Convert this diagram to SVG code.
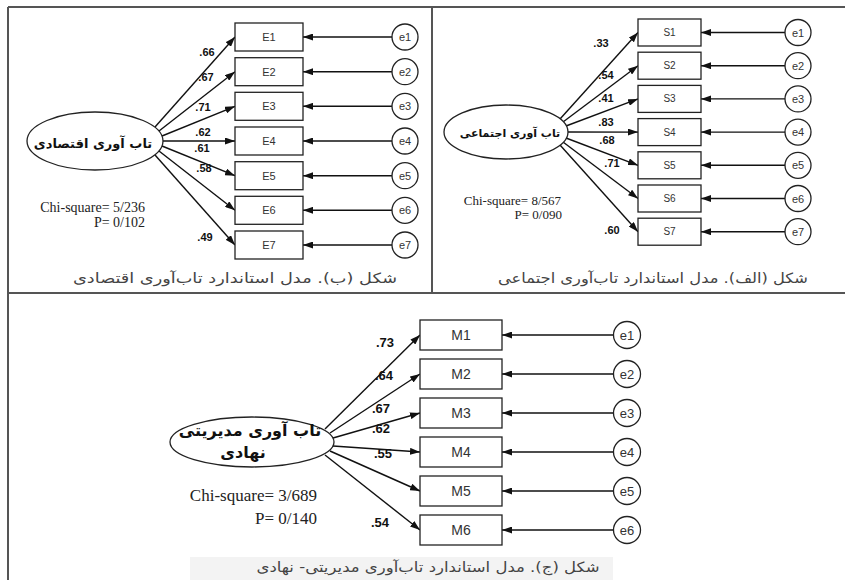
<svg xmlns="http://www.w3.org/2000/svg" width="845" height="580" viewBox="0 0 845 580">
<defs>
<marker id="ah" viewBox="0 0 10 7" refX="10" refY="3.5" markerWidth="10" markerHeight="7" markerUnits="userSpaceOnUse" orient="auto">
<path d="M0,0 L10,3.5 L0,7 z" fill="#111"/>
</marker>
<style>
.frame{stroke:#555;stroke-width:2;fill:none}
.box{fill:#fff;stroke:#222;stroke-width:1.3}
.err{fill:#fff;stroke:#222;stroke-width:1.3}
.lat{fill:#fff;stroke:#222;stroke-width:1.3}
.c line{stroke:#111;stroke-width:1.4;marker-end:url(#ah)}
.lbl{font-family:"Liberation Sans",Arial,sans-serif;fill:#333;text-anchor:middle;dominant-baseline:central}
.w{font-family:"Liberation Sans",Arial,sans-serif;font-weight:bold;fill:#111;text-anchor:middle}
.fa{font-family:"DejaVu Sans","Noto Sans",sans-serif;font-weight:bold;fill:#111;text-anchor:middle;direction:rtl}
.cap{font-family:"DejaVu Sans","Noto Sans",sans-serif;fill:#444;text-anchor:middle;direction:rtl}
.chi{font-family:"Liberation Serif","Times New Roman",serif;fill:#222;text-anchor:end}
</style>
</defs>
<rect width="845" height="580" fill="#fff"/>
<g id="frame">
<line class="frame" x1="8" y1="7" x2="845" y2="7"/>
<line class="frame" x1="8" y1="7" x2="8" y2="580"/>
<line class="frame" x1="432" y1="7" x2="432" y2="293"/>
<line class="frame" x1="8" y1="293" x2="845" y2="293"/>
<rect x="190" y="557" width="423" height="23" fill="#f3f3f3"/>
</g>

<g class="c" id="connectors">
<!-- panel B -->
<line x1="155" y1="127" x2="235" y2="37"/>
<line x1="159" y1="131" x2="235" y2="71.7"/>
<line x1="162" y1="136" x2="235" y2="106.3"/>
<line x1="163" y1="141" x2="235" y2="141"/>
<line x1="162" y1="146" x2="235" y2="175.7"/>
<line x1="159" y1="151" x2="235" y2="210.3"/>
<line x1="155" y1="155" x2="235" y2="245"/>
<line x1="392" y1="37" x2="303" y2="37"/>
<line x1="392" y1="71.7" x2="303" y2="71.7"/>
<line x1="392" y1="106.3" x2="303" y2="106.3"/>
<line x1="392" y1="141" x2="303" y2="141"/>
<line x1="392" y1="175.7" x2="303" y2="175.7"/>
<line x1="392" y1="210.3" x2="303" y2="210.3"/>
<line x1="392" y1="245" x2="303" y2="245"/>
<!-- panel A -->
<line x1="560" y1="119" x2="638" y2="32.5"/>
<line x1="563" y1="122" x2="638" y2="65.7"/>
<line x1="566" y1="126" x2="638" y2="98.9"/>
<line x1="568" y1="132" x2="638" y2="132.1"/>
<line x1="566" y1="138" x2="638" y2="165.3"/>
<line x1="563" y1="142" x2="638" y2="198.5"/>
<line x1="560" y1="145" x2="638" y2="231.7"/>
<line x1="785" y1="32.5" x2="701" y2="32.5"/>
<line x1="785" y1="65.7" x2="701" y2="65.7"/>
<line x1="785" y1="98.9" x2="701" y2="98.9"/>
<line x1="785" y1="132.1" x2="701" y2="132.1"/>
<line x1="785" y1="165.3" x2="701" y2="165.3"/>
<line x1="785" y1="198.5" x2="701" y2="198.5"/>
<line x1="785" y1="231.7" x2="701" y2="231.7"/>
<!-- panel C -->
<line x1="325" y1="429" x2="420" y2="335"/>
<line x1="330" y1="433" x2="420" y2="374"/>
<line x1="333" y1="438" x2="420" y2="413"/>
<line x1="333" y1="446" x2="420" y2="452"/>
<line x1="330" y1="451" x2="420" y2="491"/>
<line x1="325" y1="455" x2="420" y2="530"/>
<line x1="613.5" y1="335" x2="502" y2="335"/>
<line x1="613.5" y1="374" x2="502" y2="374"/>
<line x1="613.5" y1="413" x2="502" y2="413"/>
<line x1="613.5" y1="452" x2="502" y2="452"/>
<line x1="613.5" y1="491" x2="502" y2="491"/>
<line x1="613.5" y1="530" x2="502" y2="530"/>
</g>

<!-- Panel B: economic -->
<g id="latB"><ellipse class="lat" cx="95" cy="141" rx="68" ry="29"/><text class="fa" x="93" y="148" font-size="13">تاب آوری اقتصادی</text></g>
<g id="E1"><rect class="box" x="235" y="23" width="68" height="28"/><text class="lbl" x="269" y="37" font-size="11">E1</text></g>
<g id="E2"><rect class="box" x="235" y="57.7" width="68" height="28"/><text class="lbl" x="269" y="71.7" font-size="11">E2</text></g>
<g id="E3"><rect class="box" x="235" y="92.3" width="68" height="28"/><text class="lbl" x="269" y="106.3" font-size="11">E3</text></g>
<g id="E4"><rect class="box" x="235" y="127" width="68" height="28"/><text class="lbl" x="269" y="141" font-size="11">E4</text></g>
<g id="E5"><rect class="box" x="235" y="161.7" width="68" height="28"/><text class="lbl" x="269" y="175.7" font-size="11">E5</text></g>
<g id="E6"><rect class="box" x="235" y="196.3" width="68" height="28"/><text class="lbl" x="269" y="210.3" font-size="11">E6</text></g>
<g id="E7"><rect class="box" x="235" y="231" width="68" height="28"/><text class="lbl" x="269" y="245" font-size="11">E7</text></g>
<g id="Be1"><circle class="err" cx="405" cy="37" r="13"/><text class="lbl" x="405" y="37" font-size="11">e1</text></g>
<g id="Be2"><circle class="err" cx="405" cy="71.7" r="13"/><text class="lbl" x="405" y="71.7" font-size="11">e2</text></g>
<g id="Be3"><circle class="err" cx="405" cy="106.3" r="13"/><text class="lbl" x="405" y="106.3" font-size="11">e3</text></g>
<g id="Be4"><circle class="err" cx="405" cy="141" r="13"/><text class="lbl" x="405" y="141" font-size="11">e4</text></g>
<g id="Be5"><circle class="err" cx="405" cy="175.7" r="13"/><text class="lbl" x="405" y="175.7" font-size="11">e5</text></g>
<g id="Be6"><circle class="err" cx="405" cy="210.3" r="13"/><text class="lbl" x="405" y="210.3" font-size="11">e6</text></g>
<g id="Be7"><circle class="err" cx="405" cy="245" r="13"/><text class="lbl" x="405" y="245" font-size="11">e7</text></g>
<g id="Bw" font-size="11">
<text class="w" x="207" y="56">.66</text>
<text class="w" x="206" y="81">.67</text>
<text class="w" x="203" y="111">.71</text>
<text class="w" x="203" y="136">.62</text>
<text class="w" x="202" y="152">.61</text>
<text class="w" x="204" y="172">.58</text>
<text class="w" x="205" y="241">.49</text>
</g>
<g id="Bchi"><text class="chi" x="145" y="212" font-size="14">Chi-square= 5/236</text><text class="chi" x="145" y="227" font-size="14">P= 0/102</text></g>
<text class="cap" x="235" y="283" font-size="14" textLength="324" lengthAdjust="spacingAndGlyphs">شکل (ب). مدل استاندارد تاب‌آوری اقتصادی</text>

<!-- Panel A: social -->
<g id="latA"><ellipse class="lat" cx="506" cy="132" rx="62" ry="27"/><text class="fa" x="510" y="137" font-size="11">تاب آوری اجتماعی</text></g>
<g id="S1"><rect class="box" x="638" y="19" width="63" height="27"/><text class="lbl" x="669.5" y="32.5" font-size="10">S1</text></g>
<g id="S2"><rect class="box" x="638" y="52.2" width="63" height="27"/><text class="lbl" x="669.5" y="65.7" font-size="10">S2</text></g>
<g id="S3"><rect class="box" x="638" y="85.4" width="63" height="27"/><text class="lbl" x="669.5" y="98.9" font-size="10">S3</text></g>
<g id="S4"><rect class="box" x="638" y="118.6" width="63" height="27"/><text class="lbl" x="669.5" y="132.1" font-size="10">S4</text></g>
<g id="S5"><rect class="box" x="638" y="151.8" width="63" height="27"/><text class="lbl" x="669.5" y="165.3" font-size="10">S5</text></g>
<g id="S6"><rect class="box" x="638" y="185" width="63" height="27"/><text class="lbl" x="669.5" y="198.5" font-size="10">S6</text></g>
<g id="S7"><rect class="box" x="638" y="218.2" width="63" height="27"/><text class="lbl" x="669.5" y="231.7" font-size="10">S7</text></g>
<g id="Ae1"><circle class="err" cx="798" cy="32.5" r="13"/><text class="lbl" x="798" y="32.5" font-size="11">e1</text></g>
<g id="Ae2"><circle class="err" cx="798" cy="65.7" r="13"/><text class="lbl" x="798" y="65.7" font-size="11">e2</text></g>
<g id="Ae3"><circle class="err" cx="798" cy="98.9" r="13"/><text class="lbl" x="798" y="98.9" font-size="11">e3</text></g>
<g id="Ae4"><circle class="err" cx="798" cy="132.1" r="13"/><text class="lbl" x="798" y="132.1" font-size="11">e4</text></g>
<g id="Ae5"><circle class="err" cx="798" cy="165.3" r="13"/><text class="lbl" x="798" y="165.3" font-size="11">e5</text></g>
<g id="Ae6"><circle class="err" cx="798" cy="198.5" r="13"/><text class="lbl" x="798" y="198.5" font-size="11">e6</text></g>
<g id="Ae7"><circle class="err" cx="798" cy="231.7" r="13"/><text class="lbl" x="798" y="231.7" font-size="11">e7</text></g>
<g id="Aw" font-size="11">
<text class="w" x="601" y="47">.33</text>
<text class="w" x="606" y="79">.54</text>
<text class="w" x="606" y="102">.41</text>
<text class="w" x="606" y="126">.83</text>
<text class="w" x="607" y="144">.68</text>
<text class="w" x="612" y="167">.71</text>
<text class="w" x="612" y="234">.60</text>
</g>
<g id="Achi"><text class="chi" x="561" y="205" font-size="13">Chi-square= 8/567</text><text class="chi" x="562" y="219" font-size="13">P= 0/090</text></g>
<text class="cap" x="653" y="283" font-size="14" textLength="310" lengthAdjust="spacingAndGlyphs">شکل (الف). مدل استاندارد تاب‌آوری اجتماعی</text>

<!-- Panel C: managerial-institutional -->
<g id="latC"><ellipse class="lat" cx="252" cy="442" rx="82" ry="25"/><text class="fa" x="250" y="436" font-size="16">تاب آوری مدیریتی</text><text class="fa" x="243" y="458" font-size="16">نهادی</text></g>
<g id="M1"><rect class="box" x="420" y="320" width="82" height="30"/><text class="lbl" x="461" y="335" font-size="14">M1</text></g>
<g id="M2"><rect class="box" x="420" y="359" width="82" height="30"/><text class="lbl" x="461" y="374" font-size="14">M2</text></g>
<g id="M3"><rect class="box" x="420" y="398" width="82" height="30"/><text class="lbl" x="461" y="413" font-size="14">M3</text></g>
<g id="M4"><rect class="box" x="420" y="437" width="82" height="30"/><text class="lbl" x="461" y="452" font-size="14">M4</text></g>
<g id="M5"><rect class="box" x="420" y="476" width="82" height="30"/><text class="lbl" x="461" y="491" font-size="14">M5</text></g>
<g id="M6"><rect class="box" x="420" y="515" width="82" height="30"/><text class="lbl" x="461" y="530" font-size="14">M6</text></g>
<g id="Ce1"><circle class="err" cx="627" cy="335" r="13.5"/><text class="lbl" x="627" y="335" font-size="13">e1</text></g>
<g id="Ce2"><circle class="err" cx="627" cy="374" r="13.5"/><text class="lbl" x="627" y="374" font-size="13">e2</text></g>
<g id="Ce3"><circle class="err" cx="627" cy="413" r="13.5"/><text class="lbl" x="627" y="413" font-size="13">e3</text></g>
<g id="Ce4"><circle class="err" cx="627" cy="452" r="13.5"/><text class="lbl" x="627" y="452" font-size="13">e4</text></g>
<g id="Ce5"><circle class="err" cx="627" cy="491" r="13.5"/><text class="lbl" x="627" y="491" font-size="13">e5</text></g>
<g id="Ce6"><circle class="err" cx="627" cy="530" r="13.5"/><text class="lbl" x="627" y="530" font-size="13">e6</text></g>
<g id="Cw" font-size="13">
<text class="w" x="385" y="347">.73</text>
<text class="w" x="384" y="380">.64</text>
<text class="w" x="381" y="413">.67</text>
<text class="w" x="381" y="433">.62</text>
<text class="w" x="383" y="458">.55</text>
<text class="w" x="380" y="527">.54</text>
</g>
<g id="Cchi"><text class="chi" x="317" y="501" font-size="17">Chi-square= 3/689</text><text class="chi" x="317" y="524" font-size="17">P= 0/140</text></g>
<text class="cap" x="428" y="572" font-size="14" fill="#666" textLength="343" lengthAdjust="spacingAndGlyphs">شکل (ج). مدل استاندارد تاب‌آوری مدیریتی- نهادی</text>
</svg>
